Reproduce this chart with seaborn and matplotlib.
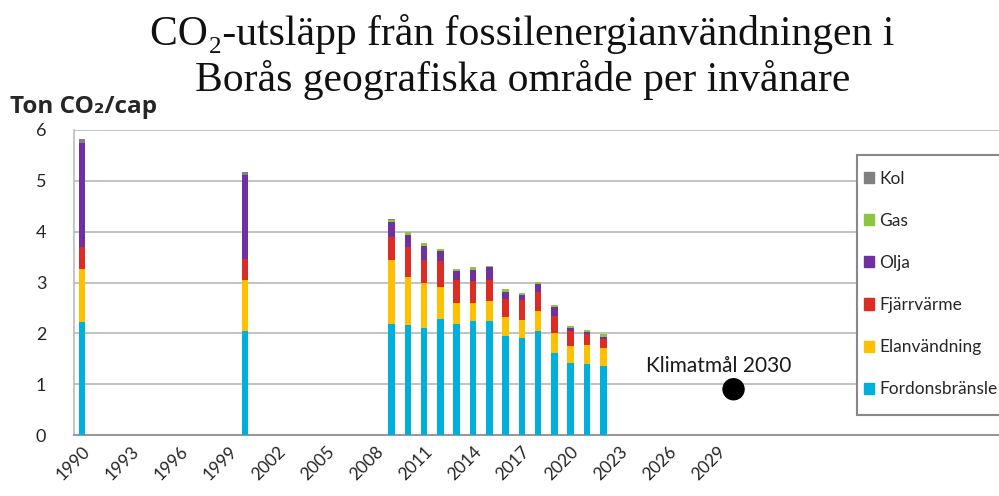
import matplotlib
matplotlib.use("Agg")
import matplotlib.pyplot as plt
import matplotlib.patches as mpatches
import seaborn as sns
import numpy as np
import pandas as pd

# Data (ton CO2 per inhabitant)
years = [1990, 2000, 2009, 2010, 2011, 2012, 2013, 2014, 2015,
         2016, 2017, 2018, 2019, 2020, 2021, 2022]
fordon = [2.22, 2.05, 2.18, 2.16, 2.10, 2.28, 2.18, 2.24, 2.24,
          1.94, 1.90, 2.05, 1.61, 1.41, 1.40, 1.36]
el = [1.04, 0.99, 1.26, 0.94, 0.89, 0.63, 0.41, 0.36, 0.40,
      0.38, 0.37, 0.38, 0.39, 0.34, 0.37, 0.35]
fjarr = [0.43, 0.42, 0.45, 0.59, 0.45, 0.52, 0.45, 0.43, 0.40,
         0.35, 0.39, 0.38, 0.35, 0.30, 0.21, 0.17]
olja = [2.06, 1.66, 0.31, 0.24, 0.28, 0.18, 0.19, 0.22, 0.26,
        0.15, 0.10, 0.17, 0.16, 0.06, 0.05, 0.04]
gas = [0.00, 0.00, 0.03, 0.07, 0.05, 0.05, 0.04, 0.05, 0.03,
       0.05, 0.04, 0.03, 0.05, 0.04, 0.04, 0.07]
kol = [0.08, 0.05, 0.01, 0.00, 0.00, 0.00, 0.00, 0.00, 0.00,
       0.00, 0.00, 0.00, 0.00, 0.00, 0.00, 0.00]

series_names = ["Fordonsbränsle", "Elanvändning", "Fjärrvärme", "Olja", "Gas", "Kol"]
colors = ["#00B0DC", "#FFC000", "#DC2C24", "#7030A0", "#8CC63F", "#808080"]

goal_year = [2030]
goal_value = [0.9]
tick_years = list(range(1990, 2030, 3))

df = pd.DataFrame({"year": years, "Fordonsbränsle": fordon, "Elanvändning": el,
                   "Fjärrvärme": fjarr, "Olja": olja, "Gas": gas, "Kol": kol})
cum = df[series_names].cumsum(axis=1)

sns.set_theme(style="white")
sans = ["Lato", "DejaVu Sans"]
plt.rcParams['font.family'] = sans

fig = plt.figure(figsize=(9.99, 4.96), dpi=100)
ax = fig.add_axes([74 / 999, 1 - 435 / 496, 1 - 74 / 999, (435 - 130) / 496])

# stacked bars: draw cumulative totals from the top layer down
for name, col in zip(series_names[::-1], colors[::-1]):
    sns.barplot(x=df["year"], y=cum[name], color=col, width=0.4, native_scale=True,
                errorbar=None, linewidth=0, saturation=1, ax=ax, zorder=3)

sns.scatterplot(x=goal_year, y=goal_value, color="black", s=260, ax=ax, zorder=4,
                edgecolor="none")
ax.text(2024.6, 1.24, "Klimatmål 2030", fontsize=15, color="#1a1a1a", zorder=5)

ax.set_ylim(0, 6)
ax.set_xlim(1989.5, 2046.3)
ax.set_yticks(range(0, 7))
ax.set_xticks(tick_years)
ax.set_xticklabels([str(y) for y in tick_years], rotation=45, ha="right",
                   rotation_mode="anchor", fontsize=12.5)
ax.tick_params(axis="y", labelsize=13, length=0, pad=20)
ax.tick_params(axis="x", length=0, pad=6)
ax.set_xlabel("")
ax.set_ylabel("")
ax.grid(axis="y", color="#B8B8B8", linewidth=1.2, zorder=0)
ax.set_axisbelow(True)
for s in ["top", "right"]:
    ax.spines[s].set_visible(False)
ax.spines["left"].set_color("#BBBBBB")
ax.spines["bottom"].set_color("#999999")
ax.spines["left"].set_linewidth(1.2)
ax.spines["bottom"].set_linewidth(1.5)

# legend box (drawn separately so the padding matches), entries reversed
frame = mpatches.Rectangle((857 / 999, 1 - 415 / 496), 160 / 999, 260 / 496,
                           transform=fig.transFigure, facecolor="white",
                           edgecolor="#888888", linewidth=1.5, zorder=5)
fig.patches.append(frame)
handles = [mpatches.Patch(color=c, label=n) for n, c in zip(series_names[::-1], colors[::-1])]
leg = fig.legend(handles=handles, loc="upper left", bbox_to_anchor=(864 / 999, 1 - 171 / 496),
                 fontsize=12.5, frameon=False, labelspacing=1.5,
                 handlelength=0.6, handleheight=0.6, handletextpad=0.3,
                 borderpad=0, borderaxespad=0)
leg.set_zorder(6)

serif = ["Liberation Serif", "DejaVu Serif"]
fig.text(0.523, 1 - 45 / 496, "CO₂-utsläpp från fossilenergianvändningen i",
         ha="center", va="baseline", fontsize=30, family=serif, color="#111111")
fig.text(0.523, 1 - 91 / 496, "Borås geografiska område per invånare",
         ha="center", va="baseline", fontsize=30, family=serif, color="#111111")
fig.text(0.010, 1 - 113 / 496, "Ton CO₂/cap", fontsize=17.5, fontweight="bold",
         family=["Open Sans", "DejaVu Sans"], ha="left", va="baseline")

fig.savefig("out.png", dpi=100)
